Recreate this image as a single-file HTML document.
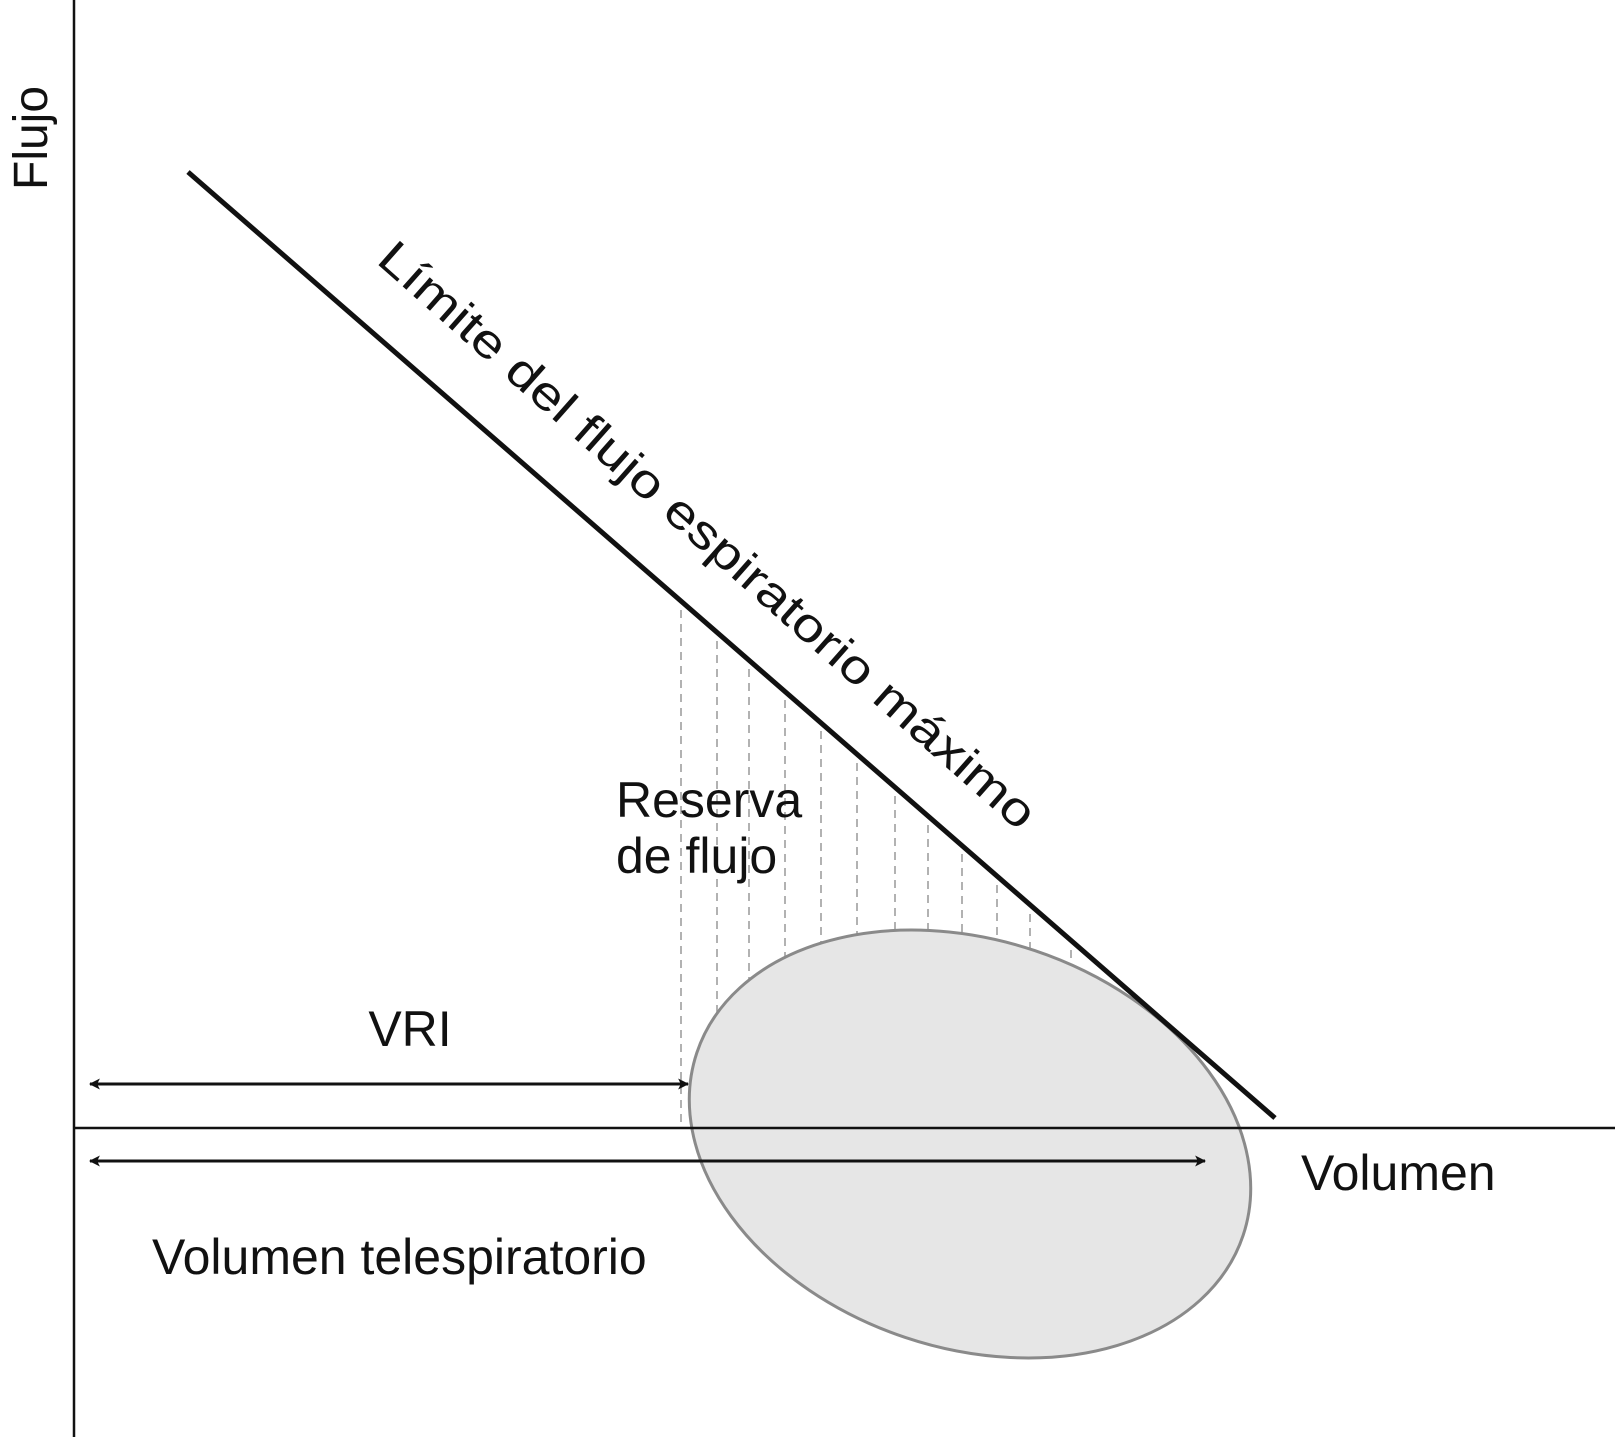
<!DOCTYPE html>
<html><head><meta charset="utf-8"><style>
html,body{margin:0;padding:0;background:#fff;}
svg{display:block;}
text{font-family:"Liberation Sans",Arial,sans-serif;fill:#111;}
</style></head><body>
<svg width="1615" height="1437" viewBox="0 0 1615 1437" xmlns="http://www.w3.org/2000/svg">
<defs>
<marker id="ah" viewBox="0 0 20 20" refX="18" refY="10" markerWidth="11" markerHeight="11" markerUnits="userSpaceOnUse" orient="auto-start-reverse">
<path d="M0,0 L20,10 L0,20 L5,10 Z" fill="#111"/>
</marker>
</defs>
<g stroke="#999" stroke-width="1.5" stroke-dasharray="8 6">
<line x1="681" y1="610" x2="681" y2="1128"/>
<line x1="717" y1="641" x2="717" y2="1128"/>
<line x1="749" y1="669" x2="749" y2="1128"/>
<line x1="785" y1="700" x2="785" y2="1128"/>
<line x1="821" y1="731" x2="821" y2="1128"/>
<line x1="857" y1="763" x2="857" y2="1128"/>
<line x1="895" y1="796" x2="895" y2="1128"/>
<line x1="928" y1="825" x2="928" y2="1128"/>
<line x1="962" y1="854" x2="962" y2="1128"/>
<line x1="997" y1="885" x2="997" y2="1128"/>
<line x1="1030" y1="914" x2="1030" y2="1128"/>
<line x1="1071" y1="950" x2="1071" y2="1128"/>
</g>
<ellipse cx="970" cy="1144" rx="288" ry="204" transform="rotate(18.5 970 1144)" fill="#e6e6e6" stroke="#8a8a8a" stroke-width="3"/>
<line x1="74" y1="0" x2="74" y2="1437" stroke="#111" stroke-width="2.5"/>
<line x1="74" y1="1128" x2="1615" y2="1128" stroke="#111" stroke-width="2.5"/>
<line x1="188" y1="172" x2="1275" y2="1118" stroke="#111" stroke-width="5"/>
<line x1="90" y1="1084" x2="688" y2="1084" stroke="#111" stroke-width="3" marker-start="url(#ah)" marker-end="url(#ah)"/>
<line x1="90" y1="1161" x2="1205" y2="1161" stroke="#111" stroke-width="3" marker-start="url(#ah)" marker-end="url(#ah)"/>
<text x="375" y="262" font-size="47" transform="rotate(41.5 375 262)" textLength="860" lengthAdjust="spacingAndGlyphs">Límite del flujo espiratorio máximo</text>
<text x="616" y="817" font-size="50">Reserva</text>
<text x="616" y="873" font-size="50">de flujo</text>
<text x="410" y="1046" font-size="50" text-anchor="middle">VRI</text>
<text x="1301" y="1190" font-size="50">Volumen</text>
<text x="152" y="1274" font-size="50">Volumen telespiratorio</text>
<text x="47" y="190" font-size="48" transform="rotate(-90 47 190)">Flujo</text>
</svg>
</body></html>
